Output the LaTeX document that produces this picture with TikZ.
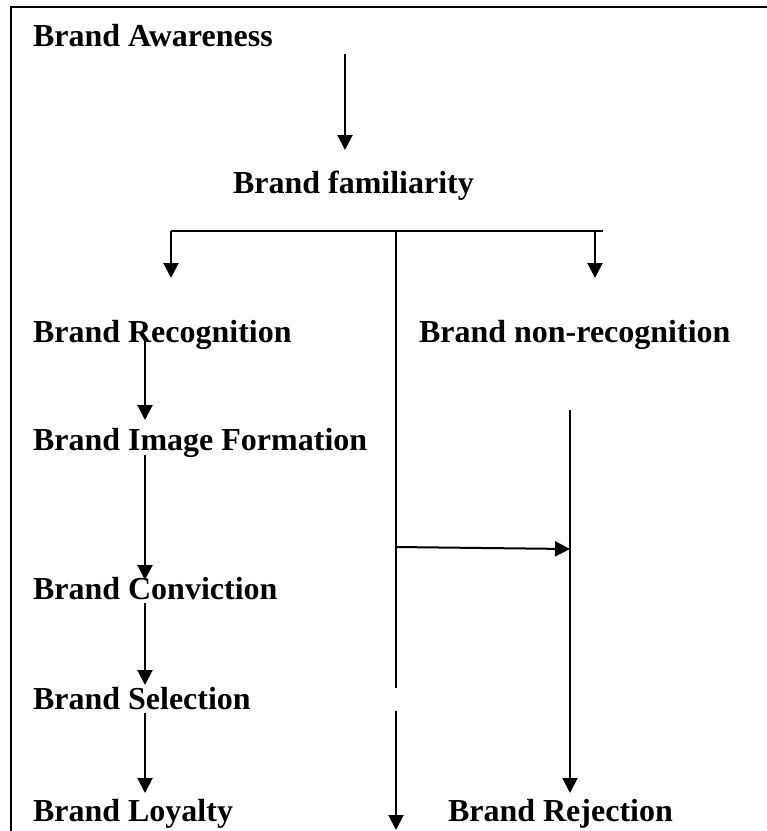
\documentclass[tikz,border=0pt]{standalone}
\usepackage{fontspec}
\setmainfont{Liberation Serif}
\usetikzlibrary{arrows.meta}
\begin{document}
\begin{tikzpicture}[x=1pt,y=-1pt,line width=2pt,
  lbl/.style={anchor=base west,inner sep=0pt,font=\bfseries\fontsize{32}{38}\selectfont},
  arr/.style={-{Triangle[length=15pt,width=15pt]}}]
\useasboundingbox (0,0) rectangle (767,831);
% frame
\draw[line width=2.5pt] (11,831) -- (11,7) -- (767,7);
% labels
\node[lbl] (aw)  at (32,46)  {Brand Awareness};
\node[lbl] (fam) at (232,193) {Brand familiarity};
\node[lbl] (rec) at (32,342) {Brand Recognition};
\node[lbl] (nrec) at (418,342) {Brand non-recognition};
\node[lbl] (img) at (32,450) {Brand Image Formation};
\node[lbl] (con) at (32,599) {Brand Conviction};
\node[lbl] (sel) at (32,709) {Brand Selection};
\node[lbl] (loy) at (32,821) {Brand Loyalty};
\node[lbl] (rej) at (447,821) {Brand Rejection};
% helper coordinates
\coordinate (a1s) at (345,54);
\coordinate (a1e) at (345,150);
\coordinate (bl) at (171,231);
\coordinate (br) at (603,231);
\coordinate (bm) at (396,231);
\coordinate (lt) at (171,278);
\coordinate (rd) at (595,231);
\coordinate (rt) at (595,278);
\coordinate (m1) at (396,688);
\coordinate (m2) at (396,711);
\coordinate (m3) at (396,830);
\coordinate (hx) at (396,547);
\coordinate (rx) at (570,549);
\coordinate (rtop) at (570,410);
\coordinate (rbot) at (570,793);
% connectors
\draw[arr] (a1s) -- (a1e);
\draw (bl) -- (br);
\draw[arr] (bl) -- (lt);
\draw[arr] (rd) -- (rt);
\draw (bm) -- (m1);
\draw[arr] (m2) -- (m3);
\draw[arr] (hx) -- (rx);
\draw[arr] (rtop) -- (rbot);
\draw[arr] (145,340) -- (145,420);
\draw[arr] (145,455) -- (145,580);
\draw[arr] (145,603) -- (145,685);
\draw[arr] (145,713) -- (145,793);
\end{tikzpicture}
\end{document}
